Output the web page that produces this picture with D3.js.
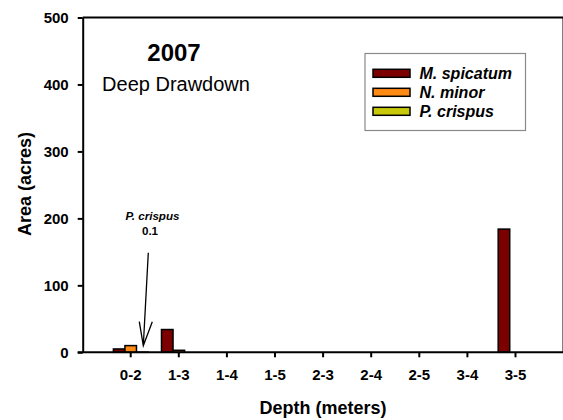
<!DOCTYPE html>
<html>
<head>
<meta charset="utf-8">
<script src="https://cdn.jsdelivr.net/npm/d3@7"></script>
<style>
  html, body { margin: 0; padding: 0; background: #fff; }
  svg { display: block; font-family: "Liberation Sans", Arial, sans-serif; }
</style>
</head>
<body>
<svg id="chart" width="563" height="420"></svg>
<script>
// ---- data ----
const categories = ["0-2", "1-3", "1-4", "1-5", "2-3", "2-4", "2-5", "3-4", "3-5"];
const seriesNames = ["M. spicatum", "N. minor", "P. crispus"];
const mSpicatum = [5, 34, 0, 0, 0, 0, 0, 0, 184];
const nMinor    = [10, 3, 0, 0, 0, 0, 0, 0, 0];
const pCrispus  = [0.1, 0, 0, 0, 0, 0, 0, 0, 0];
const yTicks = [0, 100, 200, 300, 400, 500];
const seriesColors = ["#7d0000", "#ff8a14", "#c8c80a"];

(function () {
const seriesValues = [mSpicatum, nMinor, pCrispus];
const rows = categories.map((c, i) => ({
  cat: c,
  vals: seriesNames.map((s, k) => ({ key: s, value: seriesValues[k][i], k }))
}));

// ---- layout ----
const svg = d3.select("#chart");
const mLeft = 82.7, mRight = 563.5, mTop = 17.5, mBottom = 352.3;

const x = d3.scaleBand().domain(categories).range([mLeft, mRight])
  .paddingInner(0.28).paddingOuter(0.638);
const xs = d3.scaleBand().domain(seriesNames).range([0, x.bandwidth()]).padding(0);
const y = d3.scaleLinear().domain([0, 500]).range([mBottom, mTop]);

// frame (top and right)
svg.append("path")
  .attr("d", `M${mLeft},${mTop}H${mRight}V${mBottom}`)
  .attr("fill", "none").attr("stroke", "#000").attr("stroke-width", 2);

// bars
const g = svg.append("g");
g.selectAll("g.grp").data(rows).join("g")
  .attr("class", "grp")
  .attr("transform", d => `translate(${x(d.cat)},0)`)
  .selectAll("rect").data(d => d.vals.filter(v => v.value > 0)).join("rect")
  .attr("x", d => xs(d.key))
  .attr("width", xs.bandwidth())
  .attr("y", d => y(d.value))
  .attr("height", d => y(0) - y(d.value))
  .attr("fill", d => seriesColors[d.k])
  .attr("stroke", "#000").attr("stroke-width", 1.5);

// axes
const xAxis = svg.append("g").attr("transform", `translate(0,${mBottom})`)
  .call(d3.axisBottom(x).tickSize(5).tickPadding(12).tickSizeOuter(0));
const yAxis = svg.append("g").attr("transform", `translate(${mLeft},0)`)
  .call(d3.axisLeft(y).tickValues(yTicks).tickSize(5).tickPadding(9).tickSizeOuter(0));
[xAxis, yAxis].forEach(a => {
  a.select(".domain").attr("stroke", "#000").attr("stroke-width", 2);
  a.selectAll(".tick line").attr("stroke", "#000").attr("stroke-width", 2);
  a.selectAll(".tick text").attr("fill", "#000")
    .style("font-family", "'Liberation Sans', Arial, sans-serif")
    .style("font-size", "15px").style("font-weight", "bold");
});
xAxis.select(".domain").attr("d", `M${mLeft - 5},0H${mRight}`);

// axis titles
svg.append("text")
  .attr("x", (mLeft + mRight) / 2).attr("y", 414)
  .attr("text-anchor", "middle")
  .style("font-size", "18px").style("font-weight", "bold")
  .text("Depth (meters)");
svg.append("text")
  .attr("transform", `translate(31,184) rotate(-90)`)
  .attr("text-anchor", "middle")
  .style("font-size", "18px").style("font-weight", "bold")
  .text("Area (acres)");

// panel title
svg.append("text").attr("x", 174).attr("y", 60.5)
  .attr("text-anchor", "middle")
  .style("font-size", "24px").style("font-weight", "bold")
  .text("2007");
svg.append("text").attr("x", 176).attr("y", 91)
  .attr("text-anchor", "middle")
  .style("font-size", "20px")
  .text("Deep Drawdown");

// legend
const lg = svg.append("g");
lg.append("rect").attr("x", 365).attr("y", 53.5).attr("width", 160.5).attr("height", 77)
  .attr("fill", "#fff").attr("stroke", "#8a8a8a").attr("stroke-width", 1.2);
seriesNames.forEach((s, i) => {
  const cy = 73.3 + i * 19;
  lg.append("rect").attr("x", 373).attr("y", cy - 4).attr("width", 37).attr("height", 8)
    .attr("fill", seriesColors[i]).attr("stroke", "#000").attr("stroke-width", 1.5);
  lg.append("text").attr("x", 419.5).attr("y", cy + 5.5)
    .style("font-size", "16px").style("font-weight", "bold").style("font-style", "italic")
    .text(s);
});

// annotation
svg.append("text").attr("x", 152.5).attr("y", 220)
  .attr("text-anchor", "middle")
  .style("font-size", "11.6px").style("font-weight", "bold").style("font-style", "italic")
  .text("P. crispus");
svg.append("text").attr("x", 150).attr("y", 235)
  .attr("text-anchor", "middle")
  .style("font-size", "11.6px").style("font-weight", "bold")
  .text(String(pCrispus[0]));
const tipX = 143.3, tipY = 345.7;
svg.append("path")
  .attr("d", `M148.3,252.7L${tipX},${tipY}M139.3,321.7L${tipX},${tipY}L152.3,321.7`)
  .attr("fill", "none").attr("stroke", "#000").attr("stroke-width", 1.3);
})();
</script>
</body>
</html>
